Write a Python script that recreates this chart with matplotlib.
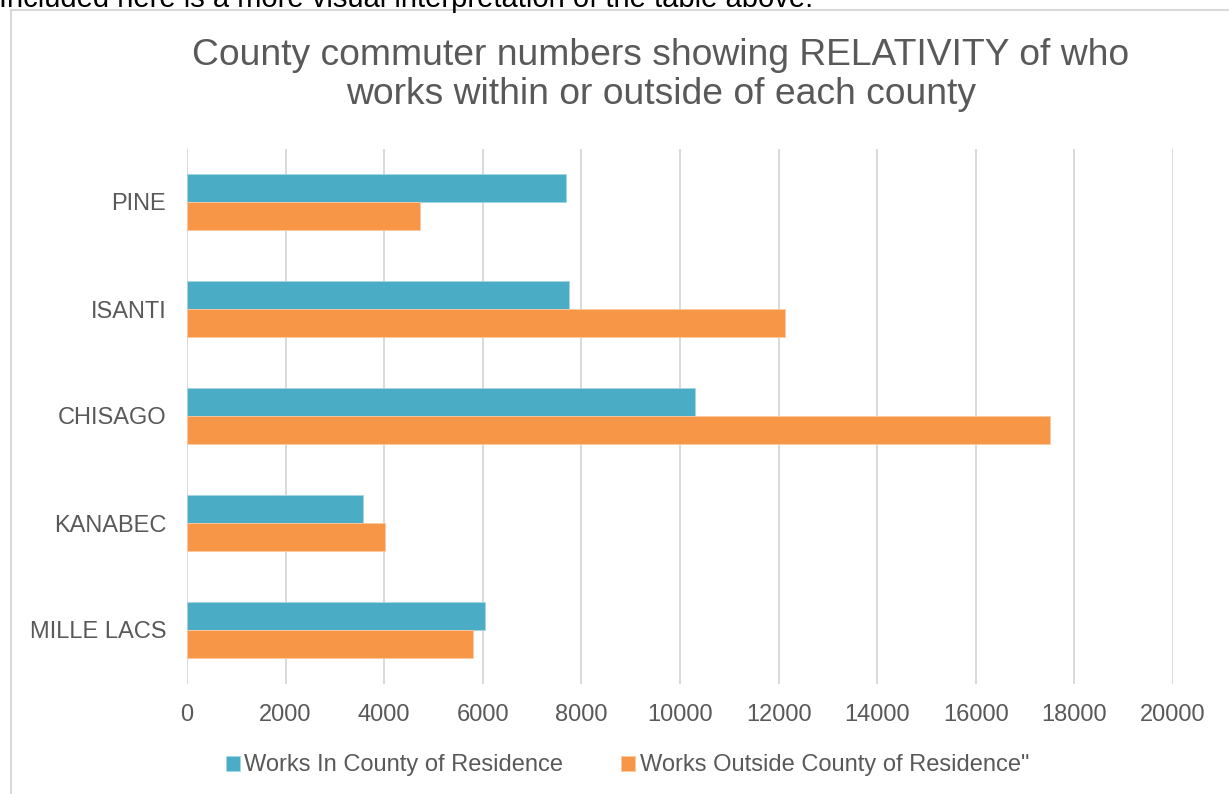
import matplotlib.pyplot as plt
import numpy as np
from matplotlib.lines import Line2D

plt.rcParams["font.family"] = ["Liberation Sans", "DejaVu Sans"]

counties = ["PINE", "ISANTI", "CHISAGO", "KANABEC", "MILLE LACS"]
works_in_county = [7680, 7740, 10310, 3565, 6035]
works_outside_county = [4720, 12120, 17515, 4010, 5810]
x_ticks = list(range(0, 20001, 2000))

teal = "#4BACC6"
orange = "#F79646"
text_grey = "#595959"

fig = plt.figure(figsize=(12.29, 7.94), dpi=100)

# caption line above the chart box, partly cut by the top edge
fig.text(-1 / 1229, 1 - 7 / 794, "Included here is a more visual interpretation of the table above.",
         fontsize=21, color="black", va="baseline", ha="left")

# chart box border (left and top edges only)
fig.add_artist(Line2D([11 / 1229, 11 / 1229], [0, 1 - 10 / 794], transform=fig.transFigure,
                      color="#d9d9d9", linewidth=1.5))
fig.add_artist(Line2D([11 / 1229, 1], [1 - 10 / 794, 1 - 10 / 794], transform=fig.transFigure,
                      color="#d9d9d9", linewidth=1.5))

ax = fig.add_axes([187 / 1229, 1 - 683.5 / 794, 986 / 1229, 535 / 794])

y = np.arange(len(counties))
bar_height = 0.262
ax.barh(y - bar_height / 2, works_in_county, height=bar_height, color=teal,
        edgecolor="#a5d5e2", linewidth=0.6, label="Works In County of Residence", zorder=3)
ax.barh(y + bar_height / 2, works_outside_county, height=bar_height, color=orange,
        edgecolor="#fbc9a2", linewidth=0.6, label="Works Outside County of Residence\"", zorder=3)

ax.set_ylim(len(counties) - 0.5, -0.5)
ax.set_yticks(y)
ax.set_yticklabels(counties)
ax.set_xlim(0, 20000)
ax.set_xticks(x_ticks)
ax.set_xticklabels([str(t) for t in x_ticks])

ax.grid(axis="x", color="#d9d9d9", linewidth=1.4, zorder=0)
for spine in ax.spines.values():
    spine.set_visible(False)
ax.tick_params(axis="both", length=0, labelsize=17, colors=text_grey)
ax.tick_params(axis="x", pad=15)
ax.tick_params(axis="y", pad=15)

fig.text(661 / 1229, 1 - 104 / 794,
         "County commuter numbers showing RELATIVITY of who\nworks within or outside of each county",
         ha="center", va="baseline", fontsize=26.8, color=text_grey, linespacing=1.15)

fig.legend(loc="center", bbox_to_anchor=(627.5 / 1229, 1 - 765.5 / 794), ncol=2, frameon=False,
           fontsize=17, labelcolor=text_grey, handlelength=0.58, handleheight=0.58,
           handletextpad=0.2, columnspacing=2.45)

fig.savefig("out.png", dpi=100)
